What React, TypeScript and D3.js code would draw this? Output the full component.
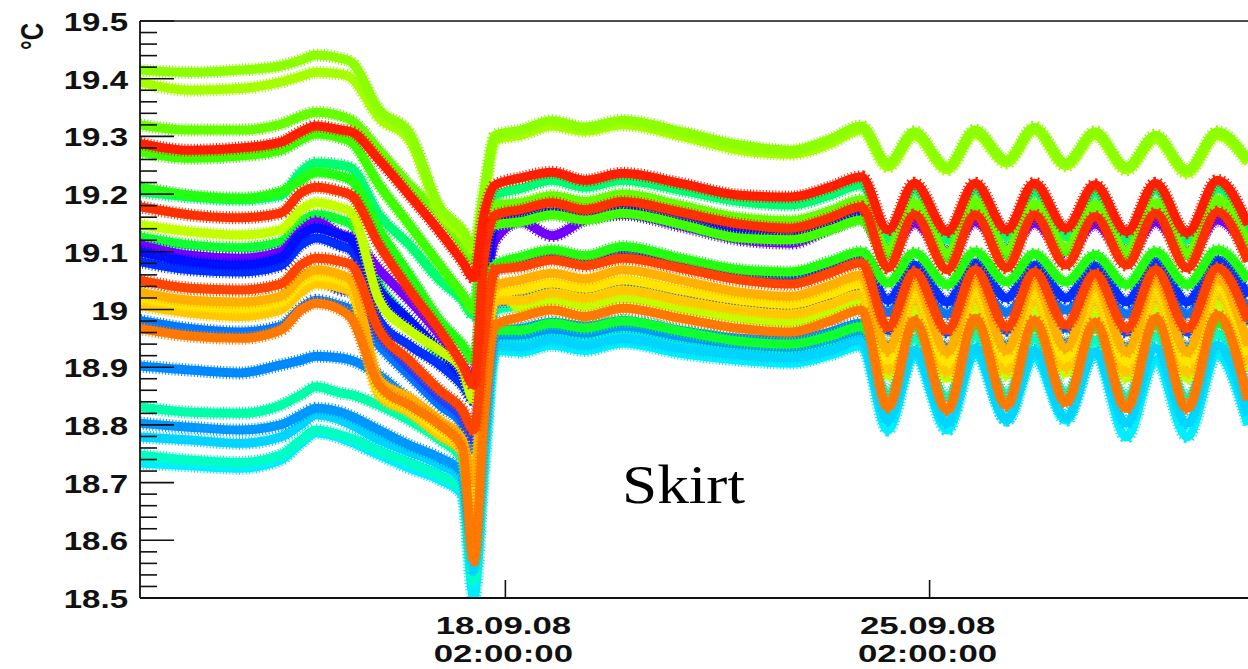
import React from "react";
import * as d3 from "d3";

const WIDTH = 1248;
const HEIGHT = 669;

// Sample instants, in hours after 12.09.08 00:00
const HOURS = [
  1.3, 21, 41, 57, 65, 71, 81, 85, 96, 108, 120, 129, 133.5, 137.5, 142, 152,
  164.5, 177.5, 192.5, 215, 239, 259, 274.5, 287, 297.5, 308, 321, 332, 344.5,
  355.5, 368, 379.5, 392, 403.5, 416, 428, 440.1,
];

// Skirt sensor temperatures (°C), one value per sample instant
const lime1 = [19.415, 19.411, 19.415, 19.422, 19.432, 19.441, 19.435, 19.429, 19.346, 19.306, 19.178, 19.138, 19.109, 19.207, 19.302, 19.311, 19.327, 19.316, 19.328, 19.309, 19.285, 19.276, 19.295, 19.318, 19.254, 19.308, 19.247, 19.311, 19.259, 19.316, 19.254, 19.308, 19.247, 19.302, 19.242, 19.308, 19.259];
const lime2 = [19.394, 19.38, 19.383, 19.394, 19.404, 19.411, 19.408, 19.401, 19.332, 19.294, 19.169, 19.128, 19.103, 19.19, 19.294, 19.302, 19.318, 19.309, 19.32, 19.301, 19.276, 19.269, 19.287, 19.311, 19.247, 19.301, 19.242, 19.304, 19.254, 19.311, 19.249, 19.302, 19.242, 19.295, 19.236, 19.301, 19.254];
const green1 = [19.32, 19.311, 19.311, 19.321, 19.335, 19.342, 19.335, 19.328, 19.276, 19.216, 19.164, 19.112, 19.083, 19.155, 19.181, 19.185, 19.197, 19.187, 19.2, 19.181, 19.159, 19.154, 19.171, 19.19, 19.103, 19.185, 19.098, 19.187, 19.103, 19.183, 19.107, 19.181, 19.1, 19.185, 19.098, 19.19, 19.112];
const red1 = [19.288, 19.276, 19.28, 19.29, 19.308, 19.318, 19.311, 19.308, 19.259, 19.198, 19.135, 19.083, 19.055, 19.164, 19.216, 19.228, 19.238, 19.224, 19.236, 19.219, 19.198, 19.195, 19.212, 19.23, 19.138, 19.219, 19.135, 19.219, 19.138, 19.219, 19.141, 19.216, 19.135, 19.219, 19.133, 19.224, 19.147];
const green2 = [19.273, 19.262, 19.266, 19.276, 19.294, 19.304, 19.297, 19.29, 19.216, 19.147, 19.077, 19.026, 18.999, 19.121, 19.147, 19.152, 19.164, 19.155, 19.167, 19.148, 19.124, 19.121, 19.138, 19.155, 19.094, 19.181, 19.089, 19.181, 19.094, 19.178, 19.1, 19.176, 19.093, 19.181, 19.094, 19.187, 19.103];
const green3 = [19.212, 19.198, 19.193, 19.204, 19.224, 19.238, 19.231, 19.224, 19.138, 19.06, 18.981, 18.938, 18.912, 19.034, 19.077, 19.091, 19.103, 19.093, 19.109, 19.089, 19.069, 19.065, 19.083, 19.1, 19.046, 19.098, 19.043, 19.1, 19.048, 19.096, 19.048, 19.094, 19.043, 19.1, 19.043, 19.103, 19.051];
const spring1 = [19.204, 19.195, 19.19, 19.198, 19.238, 19.254, 19.25, 19.245, 19.164, 19.112, 19.051, 19.016, 18.99, 19.155, 19.198, 19.21, 19.224, 19.212, 19.224, 19.207, 19.187, 19.181, 19.198, 19.216, 19.124, 19.207, 19.121, 19.207, 19.126, 19.204, 19.126, 19.202, 19.121, 19.207, 19.121, 19.21, 19.129];
const red2 = [19.178, 19.164, 19.159, 19.167, 19.202, 19.212, 19.204, 19.198, 19.112, 19.034, 18.964, 18.904, 18.869, 19.086, 19.164, 19.173, 19.185, 19.173, 19.187, 19.169, 19.148, 19.141, 19.159, 19.178, 19.072, 19.164, 19.069, 19.164, 19.072, 19.164, 19.077, 19.161, 19.077, 19.167, 19.072, 19.169, 19.083];
const chartreuse1 = [19.147, 19.135, 19.129, 19.138, 19.173, 19.185, 19.176, 19.169, 19.016, 18.964, 18.929, 18.895, 18.843, 18.981, 19.042, 19.002, 19.016, 19.006, 19.02, 19.002, 18.985, 18.978, 18.995, 19.011, 18.886, 18.999, 18.881, 19.002, 18.886, 18.999, 18.89, 18.995, 18.881, 19.002, 18.881, 19.007, 18.895];
const blue1 = [19.1, 19.083, 19.077, 19.089, 19.129, 19.141, 19.128, 19.121, 19.034, 18.981, 18.929, 18.886, 18.86, 19.016, 19.152, 19.16, 19.169, 19.16, 19.176, 19.159, 19.135, 19.128, 19.147, 19.166, 19.103, 19.164, 19.1, 19.164, 19.103, 19.162, 19.103, 19.159, 19.1, 19.164, 19.1, 19.167, 19.107];
const violet1 = [19.112, 19.094, 19.089, 19.1, 19.135, 19.152, 19.129, 19.124, 19.069, 19.016, 18.956, 18.904, 18.878, 19.016, 19.121, 19.152, 19.128, 19.155, 19.165, 19.145, 19.121, 19.115, 19.14, 19.158, 19.1, 19.15, 19.096, 19.152, 19.103, 19.15, 19.1, 19.148, 19.096, 19.152, 19.096, 19.155, 19.103];
const blue2 = [19.083, 19.069, 19.065, 19.076, 19.112, 19.124, 19.11, 19.103, 18.981, 18.938, 18.904, 18.869, 18.843, 18.981, 19.072, 19.081, 19.091, 19.083, 19.094, 19.079, 19.06, 19.055, 19.072, 19.089, 19.016, 19.077, 19.013, 19.081, 19.02, 19.077, 19.02, 19.076, 19.013, 19.083, 19.013, 19.086, 19.023];
const redOrange1 = [19.051, 19.037, 19.034, 19.044, 19.077, 19.089, 19.083, 19.077, 18.964, 18.912, 18.86, 18.826, 18.791, 18.947, 19.069, 19.074, 19.086, 19.076, 19.089, 19.072, 19.051, 19.044, 19.063, 19.081, 18.969, 19.065, 18.964, 19.069, 18.969, 19.065, 18.973, 19.062, 18.967, 19.069, 18.967, 19.072, 18.981];
const amber1 = [19.03, 19.016, 19.013, 19.023, 19.056, 19.069, 19.06, 19.051, 18.878, 18.847, 18.808, 18.774, 18.705, 18.912, 19.042, 19.051, 19.063, 19.053, 19.069, 19.051, 19.03, 19.023, 19.042, 19.06, 18.929, 19.047, 18.926, 19.051, 18.929, 19.047, 18.933, 19.044, 18.926, 19.051, 18.926, 19.055, 18.938];
const yellow1 = [19.02, 19.007, 19.002, 19.013, 19.046, 19.058, 19.051, 19.042, 18.86, 18.829, 18.791, 18.76, 18.67, 18.895, 19.03, 19.034, 19.046, 19.037, 19.051, 19.034, 19.016, 19.009, 19.027, 19.044, 18.912, 19.034, 18.909, 19.037, 18.912, 19.034, 18.916, 19.03, 18.909, 19.037, 18.909, 19.04, 18.921];
const blue3 = [19.023, 19.007, 19.006, 19.016, 19.034, 19.051, 19.034, 19.03, 18.956, 18.899, 18.847, 18.812, 18.774, 18.929, 19.013, 19.016, 19.027, 19.02, 19.034, 19.016, 19.002, 18.997, 19.015, 19.029, 18.964, 19.03, 18.961, 19.034, 18.964, 19.03, 18.968, 19.029, 18.961, 19.034, 18.961, 19.037, 18.973];
const amber2 = [19.007, 18.994, 18.988, 18.999, 19.03, 19.044, 19.037, 19.03, 18.852, 18.822, 18.782, 18.753, 18.653, 18.878, 19.016, 19.016, 19.029, 19.02, 19.034, 19.016, 18.999, 18.992, 19.009, 19.027, 18.895, 19.02, 18.891, 19.023, 18.895, 19.02, 18.899, 19.016, 18.891, 19.023, 18.891, 19.027, 18.904];
const azure1 = [18.981, 18.967, 18.961, 18.971, 19.002, 19.016, 19.006, 18.999, 18.938, 18.886, 18.834, 18.8, 18.756, 18.895, 19.016, 19.021, 19.032, 19.025, 19.037, 19.021, 19.004, 18.999, 19.016, 19.032, 18.995, 19.039, 18.992, 19.042, 18.995, 19.039, 18.999, 19.037, 18.992, 19.042, 18.992, 19.046, 19.004];
const orange1 = [18.967, 18.954, 18.95, 18.964, 18.999, 19.011, 18.999, 18.985, 18.869, 18.834, 18.8, 18.76, 18.566, 18.808, 18.973, 18.987, 18.999, 18.988, 19.002, 18.985, 18.967, 18.961, 18.98, 18.999, 18.831, 18.981, 18.826, 18.985, 18.834, 18.981, 18.839, 18.978, 18.829, 18.985, 18.829, 18.99, 18.843];
const spring2 = [18.831, 18.822, 18.82, 18.834, 18.852, 18.866, 18.855, 18.852, 18.834, 18.808, 18.774, 18.739, 18.635, 18.843, 18.999, 19.007, 19.02, 19.009, 19.023, 19.006, 18.988, 18.981, 18.999, 19.016, 18.964, 19.016, 18.961, 19.02, 18.964, 19.016, 18.967, 19.013, 18.961, 19.02, 18.961, 19.023, 18.973];
const azure2 = [18.902, 18.895, 18.89, 18.904, 18.912, 18.919, 18.916, 18.912, 18.886, 18.843, 18.8, 18.765, 18.67, 18.843, 18.964, 18.967, 18.978, 18.971, 18.981, 18.964, 18.95, 18.947, 18.961, 18.976, 18.938, 18.985, 18.935, 18.987, 18.938, 18.985, 18.942, 18.983, 18.935, 18.987, 18.935, 18.99, 18.947];
const green4 = [19.126, 19.112, 19.107, 19.117, 19.152, 19.164, 19.155, 19.148, 19.042, 18.981, 18.921, 18.895, 18.852, 18.912, 18.964, 18.964, 18.976, 18.968, 18.98, 18.963, 18.945, 18.94, 18.954, 18.97, 18.909, 18.97, 18.904, 18.973, 18.909, 18.97, 18.912, 18.968, 18.904, 18.973, 18.904, 18.976, 18.916];
const azure3 = [18.803, 18.796, 18.791, 18.8, 18.817, 18.829, 18.822, 18.815, 18.791, 18.765, 18.743, 18.718, 18.601, 18.791, 18.956, 18.956, 18.966, 18.959, 18.971, 18.954, 18.94, 18.935, 18.949, 18.964, 18.921, 18.973, 18.917, 18.976, 18.921, 18.973, 18.924, 18.971, 18.917, 18.976, 18.917, 18.98, 18.929];
const cyan1 = [18.779, 18.774, 18.768, 18.779, 18.8, 18.817, 18.808, 18.8, 18.774, 18.753, 18.731, 18.705, 18.549, 18.756, 18.938, 18.935, 18.947, 18.938, 18.95, 18.933, 18.921, 18.916, 18.929, 18.947, 18.808, 18.929, 18.803, 18.933, 18.808, 18.929, 18.812, 18.926, 18.803, 18.933, 18.803, 18.938, 18.817];
const spring3 = [18.748, 18.739, 18.735, 18.748, 18.774, 18.791, 18.782, 18.777, 18.756, 18.735, 18.713, 18.687, 18.531, 18.739, 18.938, 18.947, 18.959, 18.95, 18.962, 18.945, 18.929, 18.926, 18.94, 18.957, 18.852, 18.95, 18.847, 18.954, 18.852, 18.95, 18.855, 18.947, 18.847, 18.954, 18.847, 18.957, 18.86];
const cyan2 = [18.734, 18.729, 18.725, 18.739, 18.768, 18.786, 18.777, 18.77, 18.748, 18.725, 18.705, 18.679, 18.5, 18.722, 18.929, 18.926, 18.938, 18.929, 18.942, 18.924, 18.912, 18.907, 18.921, 18.937, 18.791, 18.921, 18.791, 18.924, 18.808, 18.917, 18.808, 18.924, 18.779, 18.912, 18.779, 18.921, 18.8];

// Drawing order: first entries end up underneath
const SERIES = [
  { name: "cyan2", color: "#00eeff", values: cyan2 },
  { name: "spring3", color: "#00ffc4", values: spring3 },
  { name: "cyan1", color: "#00d4ff", values: cyan1 },
  { name: "azure3", color: "#0098ff", values: azure3 },
  { name: "azure2", color: "#0088ff", values: azure2 },
  { name: "spring2", color: "#00ffa8", values: spring2 },
  { name: "green4", color: "#10ff30", values: green4 },
  { name: "azure1", color: "#0078ff", values: azure1 },
  { name: "blue3", color: "#2040ff", values: blue3 },
  { name: "blue2", color: "#0030ff", values: blue2 },
  { name: "violet1", color: "#7000ff", values: violet1 },
  { name: "blue1", color: "#0010ff", values: blue1 },
  { name: "chartreuse1", color: "#c4ff00", values: chartreuse1 },
  { name: "amber2", color: "#ffc800", values: amber2 },
  { name: "yellow1", color: "#ffe400", values: yellow1 },
  { name: "amber1", color: "#ffb000", values: amber1 },
  { name: "spring1", color: "#00ff70", values: spring1 },
  { name: "green3", color: "#22ff10", values: green3 },
  { name: "green2", color: "#40ff00", values: green2 },
  { name: "green1", color: "#66ff00", values: green1 },
  { name: "lime2", color: "#a6ff00", values: lime2 },
  { name: "lime1", color: "#8cff00", values: lime1 },
  { name: "orange1", color: "#ff7800", values: orange1 },
  { name: "redOrange1", color: "#ff4400", values: redOrange1 },
  { name: "red2", color: "#ff3000", values: red2 },
  { name: "red1", color: "#ff1e00", values: red1 },
];

const Y_TICK_LABELS = ["18.5", "18.6", "18.7", "18.8", "18.9", "19", "19.1", "19.2", "19.3", "19.4", "19.5"];
const X_TICK_DATES = [new Date(2008, 8, 18, 2, 0, 0), new Date(2008, 8, 25, 2, 0, 0)];

const T0 = new Date(2008, 8, 12, 0, 0, 0);
const at = (h: number) => new Date(T0.getTime() + h * 3600 * 1000);

const LEFT = 140;
const RIGHT = 1248;
const TOP = 21;
const BOTTOM = 598;
const FONT = "'Liberation Sans', Arial, Helvetica, sans-serif";

export default function App() {
  const x = d3.scaleTime().domain([at(HOURS[0]), at(HOURS[HOURS.length - 1])]).range([LEFT, RIGHT]);
  const y = d3.scaleLinear().domain([18.5, 19.5]).range([BOTTOM, TOP]);

  const line = d3
    .line<number>()
    .x((_, i) => x(at(HOURS[i])))
    .y((v) => y(v))
    .curve(d3.curveMonotoneX);

  const majorTicks = Y_TICK_LABELS.map((s) => +s);
  const minorTicks = d3.range(0, 51).map((k) => 18.5 + k * 0.02).filter((_, k) => k % 5 !== 0);
  const fmtDate = d3.timeFormat("%d.%m.%y");
  const fmtTime = d3.timeFormat("%H:%M:%S");

  return (
    <svg
      width={WIDTH}
      height={HEIGHT}
      viewBox={`0 0 ${WIDTH} ${HEIGHT}`}
      style={{ position: "absolute", left: 0, top: 0, background: "#fff" }}
    >
      <defs>
        <clipPath id="plot-area">
          <rect x={LEFT} y={TOP - 2} width={RIGHT - LEFT + 10} height={BOTTOM - TOP + 2} />
        </clipPath>
      </defs>

      <g clipPath="url(#plot-area)">
        {SERIES.map((s) => {
          const d = line(s.values) || "";
          return (
            <g key={s.name}>
              <path d={d} fill="none" stroke={s.color} strokeWidth={13} strokeDasharray="1 2.2" />
              <path d={d} fill="none" stroke={s.color} strokeWidth={9} strokeLinejoin="round" />
            </g>
          );
        })}
      </g>

      {/* frame */}
      <line x1={LEFT} x2={RIGHT} y1={TOP} y2={TOP} stroke="#111" strokeWidth={1.5} />
      <line x1={LEFT} x2={RIGHT} y1={BOTTOM} y2={BOTTOM} stroke="#111" strokeWidth={1.8} />
      <line x1={LEFT} x2={LEFT} y1={TOP} y2={BOTTOM} stroke="#111" strokeWidth={1.8} />

      {/* y ticks */}
      {majorTicks.map((v) => (
        <line key={`M${v}`} x1={LEFT} x2={LEFT + 34} y1={y(v)} y2={y(v)} stroke="#111" strokeWidth={1.6} />
      ))}
      {minorTicks.map((v) => (
        <line key={`m${v}`} x1={LEFT} x2={LEFT + 17} y1={y(v)} y2={y(v)} stroke="#111" strokeWidth={1.6} />
      ))}
      {Y_TICK_LABELS.map((s) => (
        <g key={`yl${s}`} transform={`translate(128,${y(+s) + 10}) scale(1.27,1)`}>
          <text textAnchor="end" fontFamily={FONT} fontWeight="bold" fontSize={26} fill="#111">
            {s}
          </text>
        </g>
      ))}

      {/* y title */}
      <g transform="translate(43,23) scale(1.27,1) rotate(-90)">
        <text textAnchor="end" fontFamily={FONT} fontWeight="bold" fontSize={24} fill="#111">
          °C
        </text>
      </g>

      {/* x ticks */}
      {X_TICK_DATES.map((dt) => (
        <g key={dt.getTime()}>
          <line x1={x(dt)} x2={x(dt)} y1={BOTTOM} y2={BOTTOM - 18} stroke="#111" strokeWidth={1.6} />
          <g transform={`translate(${x(dt) - 2},634) scale(1.45,1)`}>
            <text textAnchor="middle" fontFamily={FONT} fontWeight="bold" fontSize={24} fill="#111">
              {fmtDate(dt)}
            </text>
          </g>
          <g transform={`translate(${x(dt) - 2},662) scale(1.45,1)`}>
            <text textAnchor="middle" fontFamily={FONT} fontWeight="bold" fontSize={24} fill="#111">
              {fmtTime(dt)}
            </text>
          </g>
        </g>
      ))}

      <text
        x={622}
        y={503}
        fontFamily="'Liberation Serif', 'Times New Roman', serif"
        fontSize={54}
        textLength={123}
        lengthAdjust="spacingAndGlyphs"
        fill="#000"
      >
        Skirt
      </text>
    </svg>
  );
}
